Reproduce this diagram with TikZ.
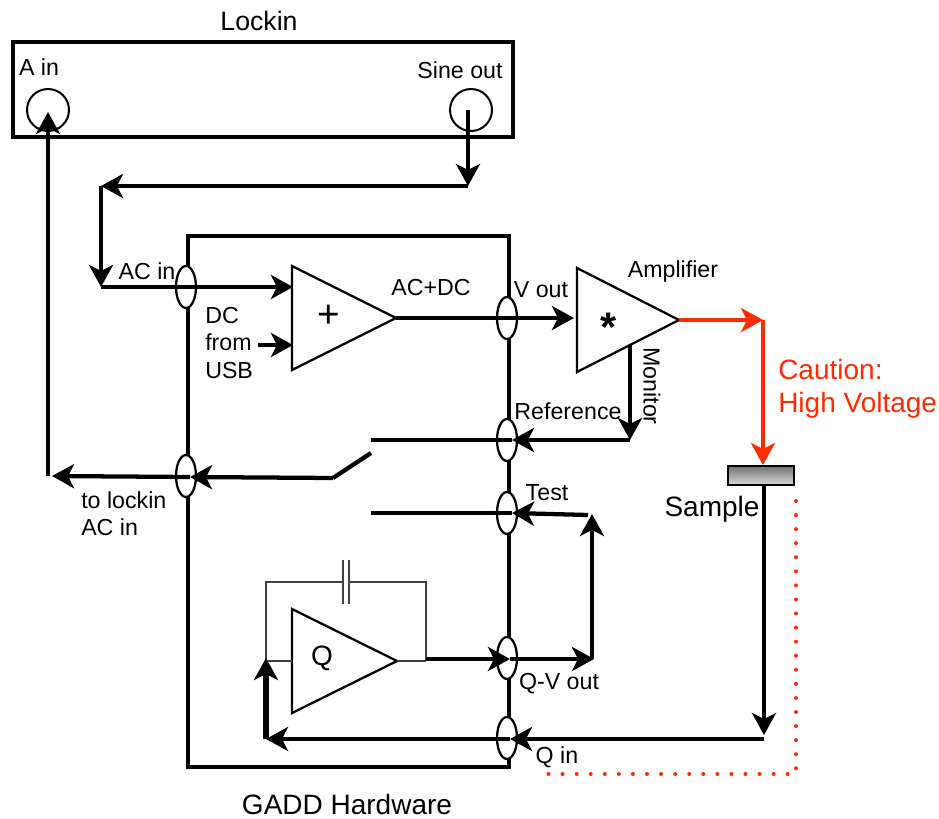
\documentclass[tikz,border=0pt]{standalone}
\usepackage{fontspec}
\setmainfont{Liberation Sans}
\usetikzlibrary{arrows.meta,shapes.geometric}
\definecolor{warn}{HTML}{FF2A00}
\tikzset{
  wire/.style={line width=3.2pt,line cap=butt,line join=miter},
  go/.style={wire,-{Stealth[length=16.5pt,width=18pt,inset=4.5pt]}},
  hot/.style={go,draw=warn},
  thin/.style={line width=1.1pt,draw=black!75},
  frame/.style={line width=3.2pt},
  tri/.style={line width=1.7pt,line join=miter},
  port/.style={ellipse,draw,fill=white,line width=1.7pt,minimum width=15pt,minimum height=31.5pt,inner sep=0pt},
  jack/.style={circle,draw,line width=1.5pt,minimum size=31.5pt,inner sep=0pt},
  lab/.style={inner sep=0pt,font=\fontsize{17.4}{20.5}\selectfont,align=left},
  big/.style={inner sep=0pt,font=\fontsize{21}{24.5}\selectfont,align=left},
}
\begin{document}
\begin{tikzpicture}[x=0.75pt,y=-0.75pt]
\useasboundingbox (0,0) rectangle (939,818);
% frames
\draw[frame] (13,42) rectangle (513,137);
\draw[frame] (188,236) rectangle (509,767);
% sample
\shade[top color=black!55,bottom color=black!15] (728,466) rectangle (794,485);
\draw[line width=2.2pt] (728,466) rectangle (794,485);
% triangles
\draw[tri] (292,266) -- (292,370) -- (396,318) -- cycle;
\draw[tri] (577,268) -- (577,372) -- (679,320) -- cycle;
\draw[tri] (292,609) -- (292,713) -- (397,661) -- cycle;
% ports
\node[port] (pAC) at (186,287) {};
\node[port] (pV) at (507,318) {};
\node[port] (pRef) at (507,440) {};
\node[port] (pTest) at (507,513) {};
\node[port] (pOut) at (186,476) {};
\node[port] (pQV) at (507,658) {};
\node[port] (pQ) at (507,738) {};
\node[jack] (jA) at (48,110) {};
\node[jack] (jS) at (471,110) {};
% junction coordinates
\coordinate (sineC) at (468,110);
\coordinate (top) at (468,186);
\coordinate (tl) at (101,186);
\coordinate (acS) at (101,287);
\coordinate (plusIn) at (293,287);
\coordinate (dcS) at (258,345);
\coordinate (dcE) at (293,345);
\coordinate (plusOut) at (396,318);
\coordinate (ampIn) at (574,318);
\coordinate (ampOut) at (679,320);
\coordinate (hvC) at (763,320);
\coordinate (hvE) at (763,465);
\coordinate (monS) at (630,345);
\coordinate (monC) at (630,440);
\coordinate (refT) at (512,440);
\coordinate (refE) at (371,440);
\coordinate (swA) at (371,453);
\coordinate (swB) at (333,478);
\coordinate (outT) at (190,477);
\coordinate (outE) at (52,476);
\coordinate (ainS) at (48,476);
\coordinate (ainT) at (48,112);
\coordinate (testS) at (588,515);
\coordinate (testT) at (512,513);
\coordinate (testE) at (371,513);
\coordinate (qOutA) at (397,661);
\coordinate (qOutB) at (426,661);
\coordinate (qOutC) at (426,659);
\coordinate (qvT) at (510,659);
\coordinate (qvE) at (594,659);
\coordinate (upS) at (592,659);
\coordinate (upT) at (592,514);
\coordinate (smpS) at (764,485);
\coordinate (smpT) at (764,735);
\coordinate (qS) at (764,739);
\coordinate (qT) at (510,739);
\coordinate (qE) at (266,739);
\coordinate (fbT) at (266,658);
\coordinate (fbIn) at (292,661);
\coordinate (fbL) at (266,661);
\coordinate (fbTL) at (266,582);
\coordinate (fbTR) at (426,582);
\coordinate (capA) at (343,582);
\coordinate (capB) at (349,582);
% feedback
\draw[thin] (fbL) -- (fbIn);
\draw[thin] (qOutA) -- (qOutB);
\draw[thin] (fbL) -- (fbTL) -- (capA);
\draw[thin] (capB) -- (fbTR) -- (qOutB);
\draw[thin] ([yshift=16.5pt]capA) -- ([yshift=-16.5pt]capA);
\draw[thin] ([yshift=16.5pt]capB) -- ([yshift=-16.5pt]capB);
% wires
\draw[go] (sineC) -- (top);
\draw[go] (top) -- (tl);
\draw[go] (tl) -- (acS);
\draw[go] (acS) -- (plusIn);
\draw[go] (dcS) -- (dcE);
\draw[go] (plusOut) -- (ampIn);
\draw[hot] (ampOut) -- (hvC);
\draw[hot] (hvC) -- (hvE);
\draw[go] (monS) -- (monC);
\draw[go] (monC) -- (refT);
\draw[wire] (refT) -- (refE);
\draw[wire] (swA) -- (swB);
\draw[go] (swB) -- (outT);
\draw[go] (outT) -- (outE);
\draw[go] (ainS) -- (ainT);
\draw[go] (testS) -- (testT);
\draw[wire] (testT) -- (testE);
\draw[go] (qOutC) -- (qvT);
\draw[go] (qvT) -- (qvE);
\draw[go] (upS) -- (upT);
\draw[go] (smpS) -- (smpT);
\draw[go] (qS) -- (qT);
\draw[go] (qT) -- (qE);
\draw[go,line width=3.8pt] (qE) -- (fbT);
% dotted
\draw[warn,line width=3pt,line cap=round,dash pattern=on 0pt off 10.55pt] (796,501) -- (796,774) -- (547,774);
% labels
\node[lab,font=\fontsize{20}{24}\selectfont] (tLock) at (259,21) {Lockin};
\node[lab] (tA) at (39,67) {A in};
\node[lab] (tS) at (460,70) {Sine out};
\node[lab] (tAC) at (147,271) {AC in};
\node[lab] (tACDC) at (431,288) {AC+DC};
\node[lab] (tV) at (541,290) {V out};
\node[lab] (tAmp) at (673,271) {Amplifier};
\node[lab,anchor=north west] (tDC) at (205,307) {DC\\from\\USB};
\node[lab,rotate=-90] (tMon) at (652,386) {Monitor};
\node[lab] (tRef) at (568,411) {Reference};
\node[lab] (tTest) at (547,493) {Test};
\node[lab,anchor=north west] (tLk) at (81,491) {to lockin\\AC in};
\node[lab] (tQV) at (559,684) {Q-V out};
\node[lab] (tQ) at (557,757) {Q in};
\node[big,text=warn,anchor=north west] (tHV) at (778,359) {Caution:\\High Voltage};
\node[big] (tSmp) at (712,509) {Sample};
\node[big] (tGADD) at (347,804) {GADD Hardware};
\node[inner sep=0pt,font=\fontsize{29}{30}\selectfont] (sPlus) at (329,316) {+};
\node[inner sep=0pt,font=\bfseries\fontsize{31}{30}\selectfont] (sStar) at (609,327) {*};
\node[inner sep=0pt,font=\fontsize{21}{26}\selectfont] (sQ) at (322,658) {Q};
\end{tikzpicture}
\end{document}
